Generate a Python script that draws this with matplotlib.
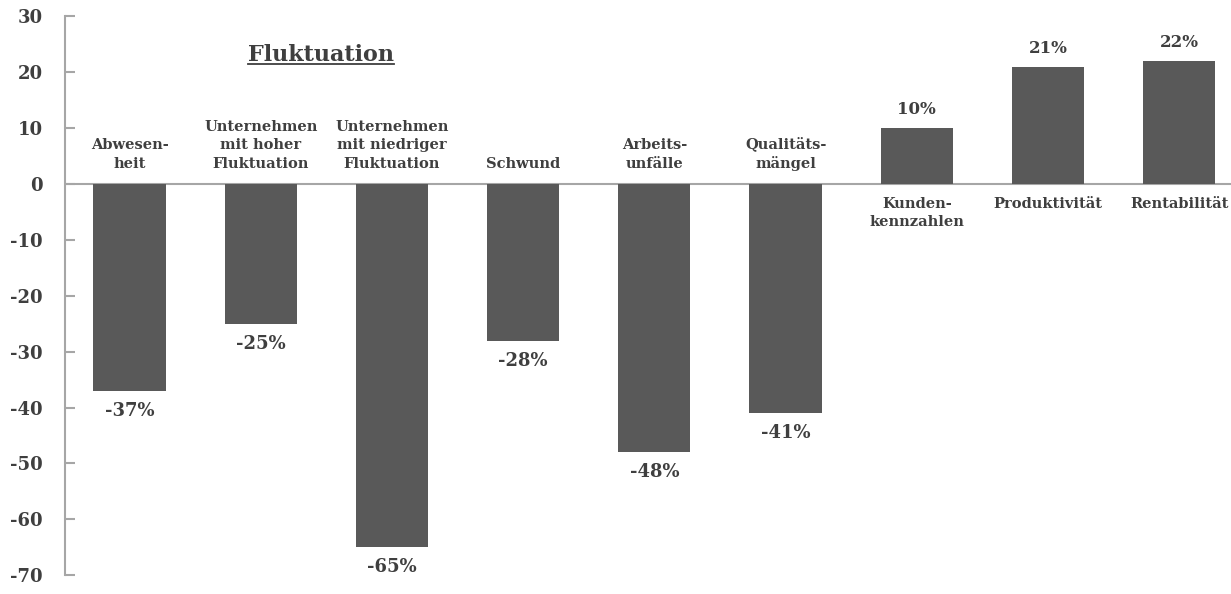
import matplotlib.pyplot as plt
from matplotlib.lines import Line2D

# Kennzahlen und ihre Veränderung in Prozent
kategorien = ['Abwesen-\nheit', 'Unternehmen\nmit hoher\nFluktuation', 'Unternehmen\nmit niedriger\nFluktuation',
              'Schwund', 'Arbeits-\nunfälle', 'Qualitäts-\nmängel', 'Kunden-\nkennzahlen',
              'Produktivität', 'Rentabilität']
werte = [-37, -25, -65, -28, -48, -41, 10, 21, 22]
y_ticks = [30, 20, 10, 0, -10, -20, -30, -40, -50, -60, -70]

TEXT = '#3f3f3f'
BALKEN = '#595959'
ACHSE = '#a6a6a6'

plt.rcParams['font.family'] = ['DejaVu Serif']
plt.rcParams['axes.unicode_minus'] = False

fig = plt.figure(figsize=(12.31, 5.94), dpi=100)
ax = fig.add_axes([0.053, 0.027, 0.955, 0.95])

x = list(range(len(werte)))
ax.bar(x, werte, width=0.55, color=BALKEN, zorder=2)
ax.axhline(0, color=ACHSE, lw=1.5, zorder=1)

for i, (k, w) in enumerate(zip(kategorien, werte)):
    if w < 0:
        ax.text(i, 2.4, k, ha='center', va='bottom', fontsize=10.5, fontweight='bold',
                color=TEXT, linespacing=1.4)
        ax.text(i, w - 2.0, f'{w}%', ha='center', va='top', fontsize=13, fontweight='bold', color=TEXT)
    else:
        ax.text(i, -2.3, k, ha='center', va='top', fontsize=10.5, fontweight='bold',
                color=TEXT, linespacing=1.4)
        ax.text(i, w + 1.8, f'{w}%', ha='center', va='bottom', fontsize=12, fontweight='bold', color=TEXT)

titel = ax.text(1.46, 23.1, 'Fluktuation', ha='center', va='center', fontsize=16,
                fontweight='bold', color=TEXT)

ax.set_xlim(-0.49, 8.47)
ax.set_ylim(-70.5, 30.5)
ax.set_yticks(y_ticks)
ax.set_xticks([])
for s in ['top', 'right', 'bottom']:
    ax.spines[s].set_visible(False)
ax.spines['left'].set_color(ACHSE)
ax.spines['left'].set_linewidth(1.5)
ax.spines['left'].set_bounds(-70, 30)
ax.tick_params(axis='y', direction='in', length=7, width=1.5, color=ACHSE,
               labelsize=13, labelcolor=TEXT, pad=16)
for lbl in ax.get_yticklabels():
    lbl.set_fontweight('bold')

# Unterstreichung des Titels
fig.canvas.draw()
bb = titel.get_window_extent()
fw, fh = fig.bbox.width, fig.bbox.height
yl = (bb.y0 + 2) / fh
fig.add_artist(Line2D([bb.x0 / fw, bb.x1 / fw], [yl, yl], color=TEXT, lw=1.3))

fig.savefig('out.png', dpi=100)
